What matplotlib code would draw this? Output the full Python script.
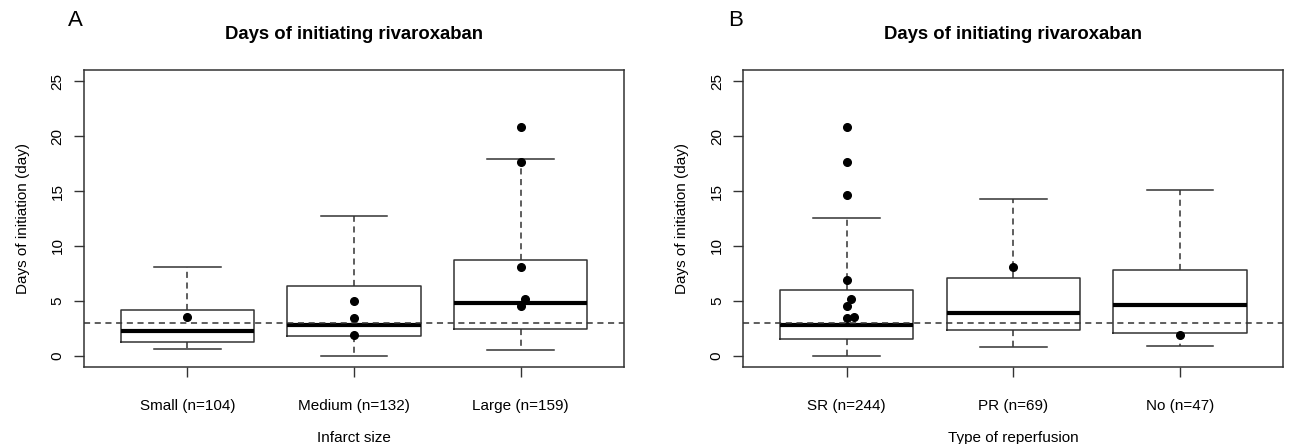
import numpy as np
import matplotlib.pyplot as plt

plt.rcParams['font.family'] = ['Liberation Sans', 'DejaVu Sans']

# panel A: infarct size
size_labels = ["Small (n=104)", "Medium (n=132)", "Large (n=159)"]
size_q1 = [1.24, 1.76, 2.46]
size_med = [2.21, 2.79, 4.77]
size_q3 = [4.13, 6.35, 8.75]
size_lo = [0.6, 0.0, 0.55]
size_hi = [8.11, 12.7, 17.9]
size_pts = [[3.55], [4.95, 3.46, 1.88], [20.84, 17.62, 8.05, 5.16, 4.52]]

# panel B: type of reperfusion
rep_labels = ["SR (n=244)", "PR (n=69)", "No (n=47)"]
rep_q1 = [1.49, 2.33, 2.06]
rep_med = [2.76, 3.92, 4.59]
rep_q3 = [5.98, 7.11, 7.84]
rep_lo = [0.0, 0.76, 0.88]
rep_hi = [12.58, 14.25, 15.1]
rep_pts = [[20.84, 17.62, 14.64, 6.93, 5.13, 4.56, 3.46, 3.55], [8.05], [1.85]]

# small horizontal offsets of a few points (as drawn in the original)
size_jit = [[0], [0, 0, 0], [0, 0, 0, 0.024, 0]]
rep_jit = [[0, 0, 0, 0, 0.024, 0, 0, 0.044], [0], [0]]

ref_line = 3


def panel(ax, labels, q1, med, q3, lo, hi, pts, jit, xlab, letter):
    stats = []
    for i in range(len(labels)):
        stats.append(dict(q1=q1[i], med=med[i], q3=q3[i], whislo=lo[i],
                          whishi=hi[i], fliers=[], label=labels[i]))
    ax.bxp(stats, positions=[1, 2, 3], widths=0.8, showfliers=False,
           boxprops=dict(color='#333333', lw=1.1),
           whiskerprops=dict(color='#333333', lw=1.1, linestyle=(0, (4, 3))),
           capprops=dict(color='#333333', lw=1.1),
           medianprops=dict(color='black', lw=3, solid_capstyle='butt'),
           capwidths=0.4)
    for i, p in enumerate(pts):
        xs = np.array(jit[i]) + i + 1
        ax.plot(xs, p, 'o', color='black', ms=5.5, zorder=4)
    ax.axhline(ref_line, color='#333333', lw=1.1, linestyle=(0, (4, 3)), zorder=5)
    ax.set_xlim(0.38, 3.62)
    ax.set_ylim(-1.04, 26.04)
    ax.set_yticks([0, 5, 10, 15, 20, 25])
    ax.set_xticks([1, 2, 3])
    ax.set_xticklabels(labels)
    ax.tick_params(axis='both', direction='out', length=7, width=1,
                   color='#333333', labelsize=11)
    ax.tick_params(axis='x', pad=16)
    ax.tick_params(axis='y', pad=7, labelrotation=90)
    for t in ax.get_yticklabels():
        t.set_va('center')
    for s in ax.spines.values():
        s.set_linewidth(1.1)
        s.set_color('#333333')
    ax.set_title("Days of initiating rivaroxaban", fontsize=13.3,
                 fontweight='bold', pad=22)
    ax.set_xlabel(xlab, fontsize=11)
    ax.xaxis.set_label_coords(0.5, -0.215)
    ax.set_ylabel("Days of initiation (day)", fontsize=11)
    ax.yaxis.set_label_coords(-0.1, 0.5)
    ax.text(-0.015, 1.165, letter, transform=ax.transAxes, fontsize=16,
            ha='center', va='center')


fig = plt.figure(figsize=(12.9, 4.44), dpi=100)
axA = fig.add_axes([0.0651, 0.1734, 0.4186, 0.669])
axB = fig.add_axes([0.5762, 0.1734, 0.4186, 0.669])

panel(axA, size_labels, size_q1, size_med, size_q3, size_lo, size_hi,
      size_pts, size_jit, "Infarct size", "A")
panel(axB, rep_labels, rep_q1, rep_med, rep_q3, rep_lo, rep_hi,
      rep_pts, rep_jit, "Type of reperfusion", "B")

fig.savefig("out.png", dpi=100)
